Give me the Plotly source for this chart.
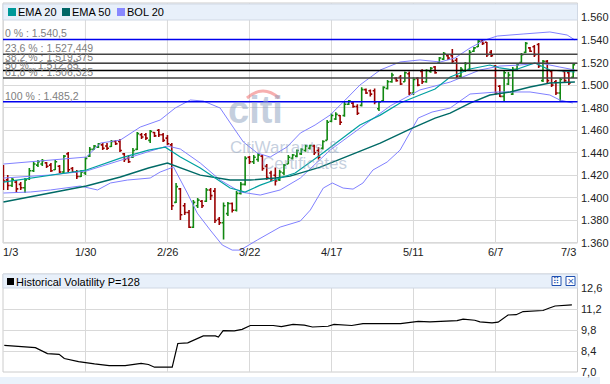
import plotly.graph_objects as go

W, H = 610, 384
def px(x): return x / W
def py(y): return 1 - y / H

# ---------------- data ----------------
tick_idx = [0, 19, 38, 57, 76, 95, 114, 133]
tick_labels = ["1/3", "1/30", "2/26", "3/22", "4/17", "5/11", "6/7", "7/3"]

opens = [1.4180,1.4160,1.4110,1.4140,1.4120,1.4090,1.4170,1.4240,1.4290,1.4300,
         1.4310,1.4290,1.4250,1.4280,1.4230,1.4390,1.4260,1.4230,1.4190,1.4220,
         1.4370,1.4430,1.4450,1.4470,1.4460,1.4455,1.4500,1.4500,1.4390,1.4350,
         1.4360,1.4430,1.4560,1.4560,1.4510,1.4580,1.4600,1.4560,1.4530,1.4470,
         1.3960,1.4080,1.3930,1.3870,1.3740,1.3930,1.3970,1.3970,1.4070,1.4060,
         1.3810,1.3780,1.3860,1.3950,1.3890,1.4040,1.4120,1.4360,1.4320,1.4340,
         1.4370,1.4280,1.4220,1.4200,1.4160,1.4220,1.4300,1.4350,1.4370,1.4390,
         1.4420,1.4440,1.4460,1.4420,1.4440,1.4510,1.4680,1.4700,1.4730,1.4730,
         1.4830,1.4840,1.4810,1.4820,1.4960,1.4950,1.4950,1.4790,1.4860,1.4970,
         1.5030,1.5060,1.5070,1.5030,1.5100,1.4930,1.5060,1.5120,1.5030,1.5120,
         1.5160,1.5200,1.5230,1.5260,1.5260,1.5220,1.5080,1.5130,1.5140,1.5300,
         1.5340,1.5390,1.5380,1.5290,1.5170,1.4990,1.4900,1.5010,1.4920,1.5140,
         1.5200,1.5290,1.5330,1.5340,1.5360,1.5040,1.5210,1.5120,1.5030,1.4930,
         1.5120,1.5110,1.5070]
highs = [1.4291,1.4203,1.4176,1.4158,1.4140,1.4176,1.4265,1.4318,1.4336,1.4345,
         1.4318,1.4309,1.4336,1.4291,1.4380,1.4407,1.4274,1.4247,1.4247,1.4362,
         1.4451,1.4469,1.4486,1.4486,1.4486,1.4513,1.4513,1.4522,1.4398,1.4380,
         1.4442,1.4584,1.4575,1.4575,1.4602,1.4584,1.4611,1.4575,1.4557,1.4486,
         1.4132,1.4087,1.3954,1.3892,1.3981,1.3999,1.3981,1.4087,1.4087,1.4087,
         1.3830,1.3960,1.3963,1.3960,1.4060,1.4140,1.4370,1.4371,1.4380,1.4398,
         1.4380,1.4300,1.4240,1.4270,1.4250,1.4300,1.4380,1.4390,1.4430,1.4440,
         1.4470,1.4470,1.4470,1.4450,1.4510,1.4690,1.4750,1.4760,1.4735,1.4850,
         1.4868,1.4850,1.4830,1.4980,1.4970,1.4960,1.4970,1.4860,1.4990,1.5045,
         1.5110,1.5070,1.5090,1.5120,1.5120,1.5070,1.5070,1.5140,1.5140,1.5160,
         1.5170,1.5250,1.5294,1.5267,1.5320,1.5240,1.5160,1.5205,1.5311,1.5338,
         1.5400,1.5405,1.5382,1.5311,1.5178,1.5001,1.5134,1.5116,1.5160,1.5196,
         1.5285,1.5382,1.5338,1.5356,1.5373,1.5223,1.5223,1.5134,1.5045,1.5063,
         1.5134,1.5134,1.5196]
lows = [1.4070,1.4070,1.4096,1.4043,1.4070,1.4043,1.4158,1.4229,1.4274,1.4282,
        1.4265,1.4229,1.4247,1.4220,1.4220,1.4229,1.4220,1.4167,1.4185,1.4203,
        1.4362,1.4424,1.4442,1.4424,1.4424,1.4451,1.4469,1.4407,1.4318,1.4309,
        1.4353,1.4424,1.4522,1.4513,1.4486,1.4540,1.4540,1.4495,1.4469,1.3892,
        1.3954,1.3803,1.3848,1.3732,1.3732,1.3910,1.3910,1.3963,1.3981,1.3777,
        1.3760,1.3630,1.3840,1.3870,1.3880,1.4030,1.4110,1.4300,1.4300,1.4320,
        1.4240,1.4160,1.4150,1.4110,1.4150,1.4200,1.4300,1.4340,1.4360,1.4380,
        1.4410,1.4430,1.4380,1.4340,1.4430,1.4510,1.4670,1.4690,1.4646,1.4720,
        1.4823,1.4800,1.4735,1.4810,1.4920,1.4900,1.4830,1.4770,1.4860,1.4960,
        1.5020,1.5030,1.5000,1.5030,1.4912,1.4912,1.4990,1.5010,1.5020,1.5110,
        1.5100,1.5196,1.5223,1.5223,1.5196,1.5063,1.5072,1.5116,1.5134,1.5294,
        1.5338,1.5356,1.5249,1.5249,1.4912,1.4894,1.4860,1.5001,1.4912,1.5134,
        1.5196,1.5285,1.5294,1.5249,1.5152,1.5027,1.5018,1.4983,1.4912,1.4852,
        1.5018,1.5001,1.5063]
closes = [1.4150,1.4110,1.4165,1.4080,1.4090,1.4160,1.4240,1.4300,1.4320,1.4330,
          1.4280,1.4240,1.4320,1.4230,1.4370,1.4250,1.4230,1.4190,1.4230,1.4350,
          1.4430,1.4460,1.4480,1.4440,1.4440,1.4500,1.4480,1.4420,1.4340,1.4320,
          1.4420,1.4570,1.4540,1.4530,1.4590,1.4550,1.4560,1.4510,1.4480,1.3930,
          1.4100,1.3850,1.3870,1.3740,1.3960,1.3980,1.3930,1.4070,1.4020,1.3800,
          1.3780,1.3930,1.3950,1.3890,1.4040,1.4120,1.4350,1.4320,1.4360,1.4380,
          1.4260,1.4180,1.4170,1.4150,1.4230,1.4290,1.4360,1.4380,1.4420,1.4430,
          1.4460,1.4465,1.4400,1.4360,1.4500,1.4670,1.4730,1.4740,1.4670,1.4830,
          1.4860,1.4810,1.4750,1.4960,1.4930,1.4920,1.4850,1.4850,1.4980,1.5030,
          1.5090,1.5040,1.5010,1.5110,1.4930,1.5050,1.5000,1.5030,1.5130,1.5150,
          1.5110,1.5240,1.5280,1.5240,1.5210,1.5080,1.5140,1.5190,1.5290,1.5330,
          1.5390,1.5370,1.5270,1.5260,1.4930,1.4900,1.5110,1.5090,1.5140,1.5180,
          1.5270,1.5370,1.5300,1.5270,1.5170,1.5210,1.5040,1.5000,1.4930,1.5050,
          1.5040,1.5020,1.5180]
bar_idx = list(range(len(opens)))

ema20_idx = [0,10.9,19.2,27.1,33.6,37.5,41,45.6,52.5,56,59.5,64.1,67.6,73.4,78,82.6,
             87.3,91.9,96.5,100,103.5,108.1,112.7,115,118.5,123.1,126.6,132.4]
ema20_val = [1.4140,1.4202,1.4247,1.4353,1.4424,1.4450,1.4362,1.4264,1.4087,1.4051,
             1.4113,1.4176,1.4220,1.4380,1.4513,1.4646,1.4734,1.4841,1.4912,1.4965,
             1.5072,1.5143,1.5178,1.5152,1.5134,1.5196,1.5134,1.5116]
ema50_idx = [0,10.9,19.2,27.1,33.6,38,41,45.6,52.5,57.2,63,66.4,73.4,80.3,87.3,94.2,
             100,103.5,108.1,112.7,117.4,122,126.6,132.4]
ema50_val = [1.3963,1.4043,1.4105,1.4185,1.4265,1.4309,1.4265,1.4202,1.4158,1.4158,
             1.4176,1.4193,1.4273,1.4380,1.4486,1.4610,1.4708,1.4752,1.4841,1.4912,
             1.4939,1.4983,1.5018,1.5027]
bol_up_idx = [0,10.9,19.2,22.5,27.1,31.7,36.3,39.8,43.3,46.3,50.2,53.2,55.6,58.8,61.8,
              65.7,68.8,72.2,75.7,79.2,82.6,87.3,91.9,96.5,101.2,104.6,108.1,111.6,
              114.4,120.4,126.6,130.6,132.4]
bol_up_val = [1.4300,1.4336,1.4362,1.4486,1.4513,1.4628,1.4690,1.4797,1.4868,1.4859,
              1.4797,1.4628,1.4495,1.4398,1.4362,1.4451,1.4575,1.4646,1.4735,1.4868,
              1.5001,1.5134,1.5205,1.5223,1.5205,1.5240,1.5329,1.5400,1.5435,1.5453,
              1.5471,1.5444,1.5400]
bol_mid_idx = [0,10.9,19.2,27.1,34,38,41,45.6,50.2,54.9,59.5,64.1,68.8,75.7,82.6,89.6,
               96.5,103.5,110.4,115,119.7,124.3,128.9,132.4]
bol_mid_val = [1.4176,1.4203,1.4238,1.4336,1.4415,1.4460,1.4433,1.4309,1.4158,1.4052,
               1.4025,1.4070,1.4176,1.4424,1.4620,1.4815,1.4957,1.5027,1.5134,1.5169,
               1.5178,1.5196,1.5160,1.5134]
bol_lo_idx = [0,6.25,10.9,17.8,21.8,24.8,28.7,34,36.3,39.4,42.6,44.9,47.9,50.7,53,54.9,
              58.8,64.1,68.8,71.1,74.1,76.2,78.7,81,83.3,85.6,88.9,91.9,96.1,99.3,
              103.5,108.1,114.4,122,126.6,128.9,131.9]
bol_lo_val = [1.4043,1.4052,1.4070,1.4105,1.4070,1.4132,1.4158,1.4176,1.4229,1.4274,
              1.4043,1.3865,1.3715,1.3582,1.3537,1.3537,1.3626,1.3741,1.3795,1.3892,
              1.4087,1.4132,1.4087,1.4078,1.4132,1.4247,1.4318,1.4424,1.4708,1.4761,
              1.4797,1.4921,1.4939,1.4939,1.4912,1.4868,1.4841]

fib_pct = ["0 %", "23,6 %", "38,2 %", "50 %", "61,8 %", "100 %"]
fib_val = [1.5405, 1.527449, 1.519375, 1.51285, 1.506325, 1.4852]
fib_txt = ["1.540,5", "1.527,449", "1.519,375", "1.512,85", "1.506,325", "1.485,2"]
fib_col = ["#0000ee", "#444444", "#444444", "#000000", "#444444", "#0000ee"]

vol_idx = [0.2,3.8,7.4,10.2,12.9,14.1,17.4,21.1,24.5,28.2,31.9,33.6,35,39.1,40.4,42.7,
           44.4,46.3,49.1,49.8,50.9,53.5,55.3,57.2,62.5,64.4,67.1,69.7,71.6,75.2,76.6,
           80.7,83.3,92.0,96.1,98.8,105.1,106.5,109.2,110.4,113.2,114.6,116.9,118.8,
           120.4,123.6,125.0,126.5,127.8,131.7]
vol_val = [8.77,8.68,8.62,8.23,8.18,7.90,7.69,7.54,7.43,7.43,7.58,7.50,7.32,7.32,8.90,
           8.94,9.15,9.41,9.41,9.33,9.76,9.74,9.84,10.10,10.10,10.02,10.17,10.13,10.00,
           10.05,10.17,10.10,10.23,10.22,10.38,10.34,10.42,10.52,10.45,10.34,10.27,10.32,
           10.80,10.82,11.03,11.07,11.10,11.27,11.40,11.47]

main_ticks = [1.36, 1.38, 1.40, 1.42, 1.44, 1.46, 1.48, 1.50, 1.52, 1.54, 1.56]
main_ticktext = ["1.360", "1.380", "1.400", "1.420", "1.440", "1.460", "1.480",
                 "1.500", "1.520", "1.540", "1.560"]
vol_ticks = [7.0, 8.4, 9.8, 11.2, 12.6]
vol_ticktext = ["7,0", "8,4", "9,8", "11,2", "12,6"]

# ---------------- figure ----------------
FONT = "Liberation Sans, Arial, sans-serif"
GRID = "#d9d9d9"
BAND = "#e8f0fa"
WM = "rgba(140,160,190,0.5)"

fig = go.Figure()
for xi, yv, col, wd in [(bol_up_idx, bol_up_val, "#8080ff", 1),
                        (bol_mid_idx, bol_mid_val, "#8080ff", 1),
                        (bol_lo_idx, bol_lo_val, "#8080ff", 1),
                        (ema50_idx, ema50_val, "#006a66", 1.4),
                        (ema20_idx, ema20_val, "#00a0a0", 1.2)]:
    fig.add_trace(go.Scatter(x=xi, y=yv, mode="lines", line=dict(color=col, width=wd),
                             showlegend=False, hoverinfo="skip", xaxis="x", yaxis="y"))
fig.add_trace(go.Ohlc(x=bar_idx, open=opens, high=highs, low=lows, close=closes,
                      increasing=dict(line=dict(color="#118811", width=1.6)),
                      decreasing=dict(line=dict(color="#990000", width=1.6)),
                      tickwidth=0.45, showlegend=False, xaxis="x", yaxis="y"))
fig.add_trace(go.Scatter(x=vol_idx, y=vol_val, mode="lines",
                         line=dict(color="#000000", width=1.2), showlegend=False,
                         hoverinfo="skip", xaxis="x2", yaxis="y2"))

XDOM = [px(3), px(577.5)]
XR = [-0.1, 133.0]
YR1 = [1.3458, 1.5728]
fig.update_layout(
    width=W, height=H, margin=dict(l=0, r=0, t=0, b=0, autoexpand=False),
    paper_bgcolor="white", plot_bgcolor="white",
    font=dict(family=FONT, size=11, color="#222222"),
    xaxis=dict(domain=XDOM, range=XR, showgrid=False, showticklabels=False,
               zeroline=False, rangeslider=dict(visible=False), automargin=False),
    yaxis=dict(domain=[py(259), py(3)], range=YR1, side="right",
               tickvals=main_ticks, showticklabels=False, showgrid=True,
               gridcolor=GRID, zeroline=False, ticks="", automargin=False),
    xaxis2=dict(domain=XDOM, range=XR, anchor="y2", tickvals=tick_idx,
                showticklabels=False, showgrid=True, gridcolor=GRID, zeroline=False,
                automargin=False),
    yaxis2=dict(domain=[py(372), py(288)], range=[7.0, 12.6], side="right",
                anchor="x2", tickvals=vol_ticks, showticklabels=False, showgrid=True,
                gridcolor=GRID, zeroline=False, ticks="", automargin=False),
)

shapes = []
ann = []
# vertical gridlines in the main panel
for t in tick_idx:
    shapes.append(dict(type="line", xref="x", yref="y", x0=t, x1=t, y0=1.36, y1=YR1[1],
                       line=dict(color=GRID, width=1), layer="below"))
# frames
shapes.append(dict(type="rect", xref="paper", yref="paper", x0=px(3), x1=px(577.5),
                   y0=py(243), y1=py(3), line=dict(color="#cccccc", width=1), layer="below"))
shapes.append(dict(type="rect", xref="paper", yref="paper", x0=px(3), x1=px(577.5),
                   y0=py(372), y1=py(274), line=dict(color="#cccccc", width=1), layer="below"))
# right-hand tick labels
for v, t in zip(main_ticks, main_ticktext):
    ann.append(dict(xref="paper", yref="y", x=px(579), y=v, text=t, showarrow=False,
                    xanchor="left", yanchor="middle",
                    font=dict(size=11, color="#222222", family=FONT)))
for v, t in zip(vol_ticks, vol_ticktext):
    ann.append(dict(xref="paper", yref="y2", x=px(579), y=v, text=t, showarrow=False,
                    xanchor="left", yanchor="middle",
                    font=dict(size=11, color="#222222", family=FONT)))
# fibonacci lines
for v, c in zip(fib_val, fib_col):
    shapes.append(dict(type="line", xref="paper", yref="y", x0=px(3), x1=px(577.5),
                       y0=v, y1=v, line=dict(color=c, width=1.5)))
for p, v, t in zip(fib_pct, fib_val, fib_txt):
    ann.append(dict(xref="paper", yref="y", x=px(3), y=v, text=f"{p} : {t}",
                    showarrow=False, xanchor="left", yanchor="bottom", yshift=-2,
                    font=dict(size=10.5, color="#808080", family=FONT)))
# legend band
shapes.append(dict(type="rect", xref="paper", yref="paper", x0=px(3), x1=px(577.5),
                   y0=py(20), y1=py(4), fillcolor=BAND, line=dict(color="#d0d8e4", width=1)))
leg = [("EMA 20", "#009999", 8), ("EMA 50", "#006666", 62), ("BOL 20", "#8888ff", 117)]
for name, col, x0 in leg:
    shapes.append(dict(type="rect", xref="paper", yref="paper", x0=px(x0), x1=px(x0 + 8),
                       y0=py(16), y1=py(8), fillcolor=col, line=dict(width=0)))
    ann.append(dict(xref="paper", yref="paper", x=px(x0 + 8), y=py(12), text=name,
                    showarrow=False, xanchor="left", yanchor="middle",
                    font=dict(size=11, color="#000000", family=FONT)))
# x tick labels
for t, lab in zip(tick_idx, tick_labels):
    anc = "left" if t == tick_idx[0] else ("right" if t == tick_idx[-1] else "center")
    xs = -2 if t == tick_idx[0] else 0
    ann.append(dict(xref="x", yref="paper", x=t, y=py(252), text=lab, showarrow=False,
                    xanchor=anc, yanchor="middle", xshift=xs,
                    font=dict(size=11, color="#222222", family=FONT)))
# volatility header
shapes.append(dict(type="rect", xref="paper", yref="paper", x0=px(3), x1=px(577.5),
                   y0=py(288), y1=py(274), fillcolor=BAND, line=dict(color="#d0d8e4", width=1)))
shapes.append(dict(type="rect", xref="paper", yref="paper", x0=px(7), x1=px(14),
                   y0=py(285), y1=py(278), fillcolor="#000000", line=dict(width=0)))
ann.append(dict(xref="paper", yref="paper", x=px(14), y=py(281.5),
                text="Historical Volatility P=128", showarrow=False, xanchor="left",
                yanchor="middle", font=dict(size=11, color="#000000", family=FONT)))
for bx, sym in [(552, "⠿"), (566, "×")]:
    shapes.append(dict(type="rect", xref="paper", yref="paper", x0=px(bx), x1=px(bx + 9),
                       y0=py(285.5), y1=py(276.5), fillcolor="#ffffff",
                       line=dict(color="#2050b0", width=1)))
    ann.append(dict(xref="paper", yref="paper", x=px(bx + 4.5), y=py(281), text=sym,
                    showarrow=False, xanchor="center", yanchor="middle",
                    font=dict(size=9, color="#2050b0", family="DejaVu Sans")))
# bottom strip
shapes.append(dict(type="rect", xref="paper", yref="paper", x0=0, x1=px(600),
                   y0=0, y1=py(377), fillcolor="#eaf2fb", line=dict(width=0), layer="below"))
# watermark
shapes.append(dict(type="path", xref="paper", yref="paper",
                   path=f"M {px(247)},{py(98)} Q {px(263)},{py(84)} {px(279)},{py(98)}",
                   line=dict(color="rgba(240,110,110,0.55)", width=3)))
ann.append(dict(xref="paper", yref="paper", x=px(226), y=py(110), text="<b>citi</b>",
                showarrow=False, xanchor="left", yanchor="middle",
                font=dict(size=38, color=WM, family=FONT)))
ann.append(dict(xref="paper", yref="paper", x=px(228), y=py(147), text="CitiWarrants &",
                showarrow=False, xanchor="left", yanchor="middle",
                font=dict(size=17, color=WM, family=FONT)))
ann.append(dict(xref="paper", yref="paper", x=px(260), y=py(163), text="Certificates",
                showarrow=False, xanchor="left", yanchor="middle",
                font=dict(size=17, color=WM, family=FONT)))

fig.update_layout(shapes=shapes, annotations=ann)
fig.write_html("out.html", config={"displayModeBar": False},
               post_script="document.body.style.margin='0';"
                           "document.body.style.overflow='hidden';")
